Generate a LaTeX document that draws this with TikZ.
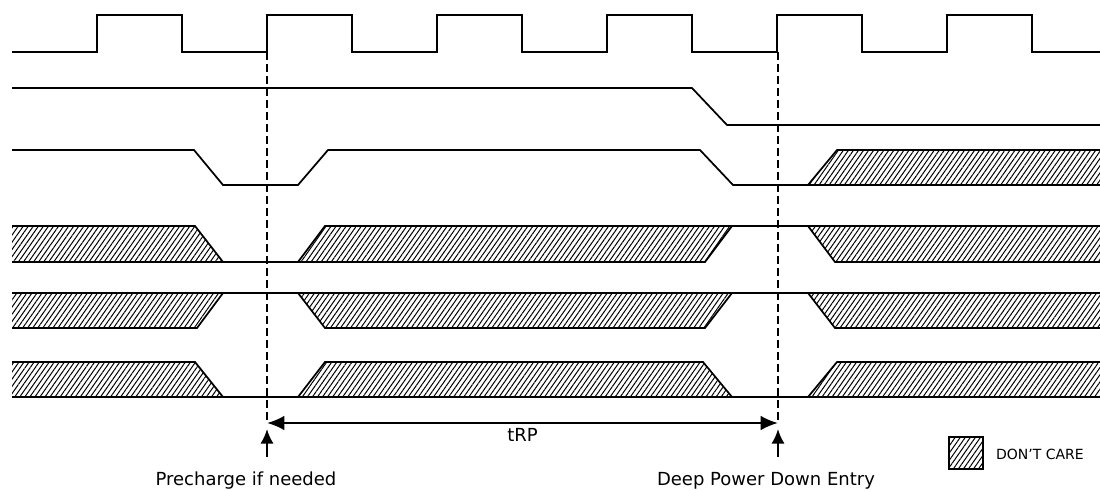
\documentclass[tikz,border=0pt]{standalone}
\usepackage{fontspec}
\setmainfont{DejaVu Sans}
\usetikzlibrary{arrows.meta}
\usetikzlibrary{patterns.meta}
\tikzset{dc/.style={pattern={Lines[angle=55,distance=3.1pt,line width=.75pt]}}}
\begin{document}
\begin{tikzpicture}[x=.75pt,y=-.75pt,line width=1.3pt,line join=miter,
  lbl/.style={font=\fontsize{13.5}{16}\selectfont,anchor=base}]
\useasboundingbox (0,0) rectangle (1100,490);
% clock
\draw (12,52) foreach \x in {97,267,437,607,777,947}{-- (\x,52) -- (\x,15) -- ({\x+85},15) -- ({\x+85},52)} -- (1100,52);
% second line
\draw (12,88) -- (692,88) -- (727,125) -- (1100,125);
% third line
\fill[dc] (808,185) -- (837,150) -- (1100,150) -- (1100,185) -- cycle;
\draw (12,150) -- (194,150) -- (223,185) -- (298,185) -- (328,150) -- (700,150) -- (733,185) -- (1100,185);
\draw (808,185) -- (837,150) -- (1100,150);
% row 4
\fill[dc] (12,226) -- (195,226) -- (223,262) -- (12,262) -- cycle;
\fill[dc] (298,262) -- (325,226) -- (732,226) -- (705,262) -- cycle;
\fill[dc] (808,226) -- (835,262) -- (1100,262) -- (1100,226) -- cycle;
\draw (12,226) -- (195,226) -- (223,262);
\draw (12,262) -- (298,262) -- (325,226) -- (1100,226);
\draw (298,262) -- (705,262) -- (732,226);
\draw (808,226) -- (835,262) -- (1100,262);
% row 5
\fill[dc] (12,293) -- (223,293) -- (197,328) -- (12,328) -- cycle;
\fill[dc] (298,293) -- (732,293) -- (705,328) -- (325,328) -- cycle;
\fill[dc] (808,293) -- (1100,293) -- (1100,328) -- (835,328) -- cycle;
\draw (12,293) -- (1100,293);
\draw (12,328) -- (197,328) -- (223,293);
\draw (298,293) -- (325,328) -- (705,328) -- (732,293);
\draw (808,293) -- (835,328) -- (1100,328);
% row 6
\fill[dc] (12,362) -- (195,362) -- (223,397) -- (12,397) -- cycle;
\fill[dc] (298,397) -- (325,362) -- (703,362) -- (732,397) -- cycle;
\fill[dc] (808,397) -- (837,362) -- (1100,362) -- (1100,397) -- cycle;
\draw (12,362) -- (195,362) -- (223,397);
\draw (12,397) -- (1100,397);
\draw (298,397) -- (325,362) -- (703,362) -- (732,397);
\draw (808,397) -- (837,362) -- (1100,362);
% markers
\coordinate (preTop) at (267,52);
\coordinate (pre) at (267,423);
\coordinate (dpdTop) at (778,52);
\coordinate (dpd) at (778,423);
\draw[dashed,dash pattern=on 6pt off 3pt,line width=1.2pt] (preTop) -- (pre);
\draw[dashed,dash pattern=on 6pt off 3pt,line width=1.2pt] (dpdTop) -- (dpd);
\draw[line width=1.7pt,{Latex[length=13pt,width=11pt]}-{Latex[length=13pt,width=11pt]}] (pre) -- (dpd)node[pos=.5,lbl,below=0pt]{tRP};
\coordinate (preBot) at (267,457);
\coordinate (preTip) at (267,429);
\coordinate (dpdBot) at (778,457);
\coordinate (dpdTip) at (778,429);
\draw[line width=1.7pt,-{Latex[length=11pt,width=10pt]}] (preBot) -- (preTip);
\draw[line width=1.7pt,-{Latex[length=11pt,width=10pt]}] (dpdBot) -- (dpdTip);
\node[lbl] (preTxt) at (246,485) {Precharge if needed};
\node[lbl] (dpdTxt) at (766,485) {Deep Power Down Entry};
% legend
\draw[dc,line width=1pt] (949,437) rectangle (983,469);
\node[font=\fontsize{10.5}{12}\selectfont,anchor=base] (dcTxt) at (1040,459) {DON'T CARE};
\end{tikzpicture}
\end{document}
